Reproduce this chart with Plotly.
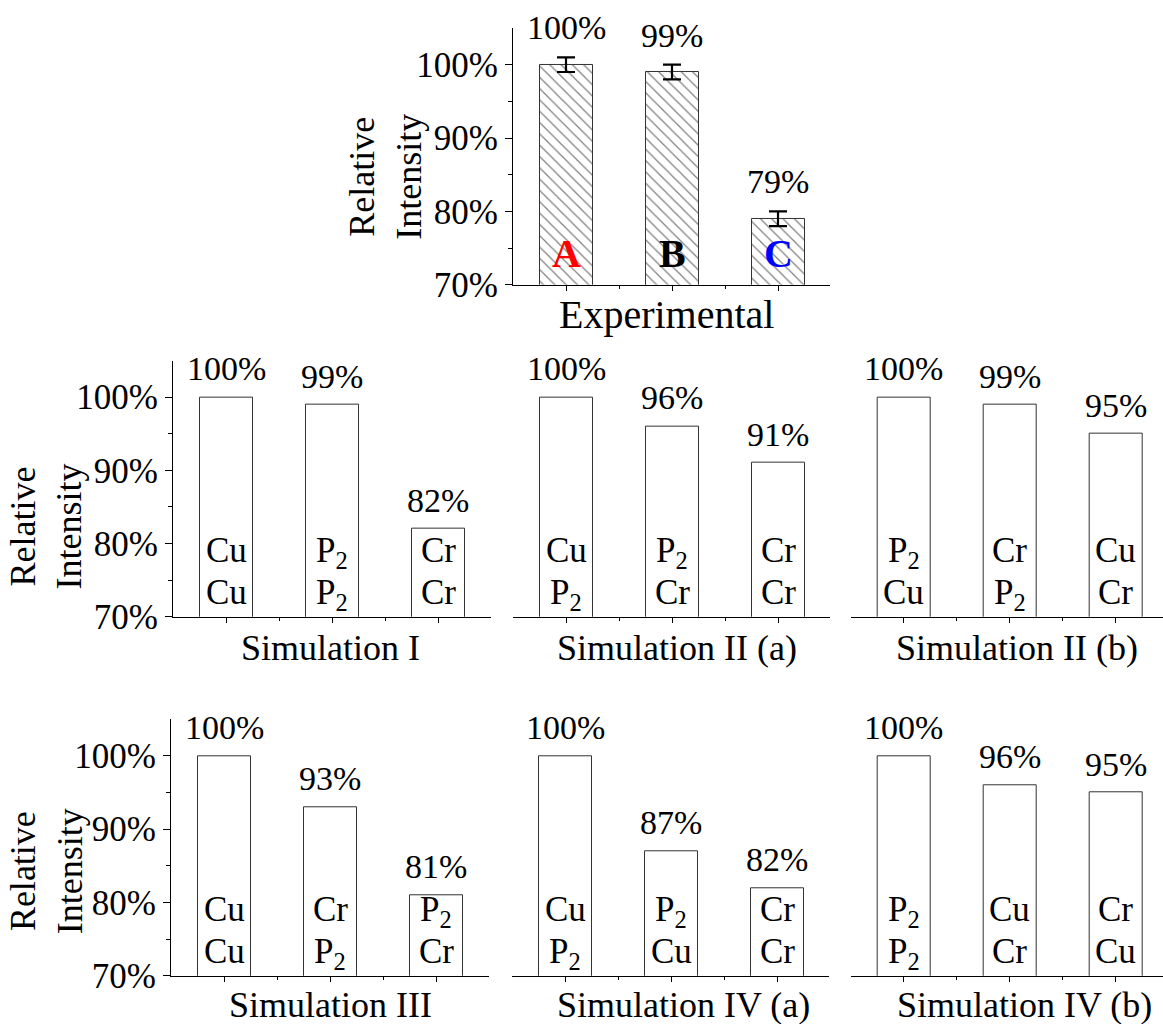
import plotly.graph_objects as go

FONT = "Liberation Serif"
W, H = 1163, 1024
# vertical extent that the paper coordinates span on the rendered page
H_PAPER = 1005

categories = [0, 1, 2]
value_ticks = [70, 80, 90, 100]
value_tick_labels = ["70%", "80%", "90%", "100%"]
minor_value_ticks = [75, 85, 95]

# Experimental panel
exp_title = "Experimental"
exp_values = [100, 99, 79]
exp_errors = [1, 1, 1]
exp_letters = ["A", "B", "C"]
exp_letter_colors = ["#ff0000", "#000000", "#0000ff"]

P2 = "P<sub>2</sub>"

# Simulation panels: bar heights plus the two-line label inside each bar
sim1_title = "Simulation I"
sim1_values = [100, 99, 82]
sim1_upper = ["Cu", P2, "Cr"]
sim1_lower = ["Cu", P2, "Cr"]

sim2a_title = "Simulation II (a)"
sim2a_values = [100, 96, 91]
sim2a_upper = ["Cu", P2, "Cr"]
sim2a_lower = [P2, "Cr", "Cr"]

sim2b_title = "Simulation II (b)"
sim2b_values = [100, 99, 95]
sim2b_upper = [P2, "Cr", "Cu"]
sim2b_lower = ["Cu", P2, "Cr"]

sim3_title = "Simulation III"
sim3_values = [100, 93, 81]
sim3_upper = ["Cu", "Cr", P2]
sim3_lower = ["Cu", P2, "Cr"]

sim4a_title = "Simulation IV (a)"
sim4a_values = [100, 87, 82]
sim4a_upper = ["Cu", P2, "Cr"]
sim4a_lower = [P2, "Cu", "Cr"]

sim4b_title = "Simulation IV (b)"
sim4b_values = [100, 96, 95]
sim4b_upper = [P2, "Cu", "Cr"]
sim4b_lower = [P2, "Cr", "Cu"]

# Pixel boxes of the plot areas (left, right, top, bottom), the x centre of
# each panel caption, and whether the panel carries a value axis
BOX_TOP = (513, 830, 28, 285)
ROW1 = (361, 617.3)
ROW2 = (720, 976.7)
sim_panels = [
    (sim1_title, sim1_values, sim1_upper, sim1_lower, (173, 491) + ROW1, 330, True),
    (sim2a_title, sim2a_values, sim2a_upper, sim2a_lower, (513, 830) + ROW1, 677, False),
    (sim2b_title, sim2b_values, sim2b_upper, sim2b_lower, (850.7, 1163) + ROW1, 1017, False),
    (sim3_title, sim3_values, sim3_upper, sim3_lower, (171, 488.5) + ROW2, 330, True),
    (sim4a_title, sim4a_values, sim4a_upper, sim4a_lower, (512, 829) + ROW2, 683, False),
    (sim4b_title, sim4b_values, sim4b_upper, sim4b_lower, (850.7, 1163) + ROW2, 1024, False),
]

PX_PER_CAT = 106.0
Y_RANGE = [70, 105]


def px_x(x):
    return x / W


def px_y(y):
    return 1 - y / H_PAPER


fig = go.Figure()
annotations = []


def add_axes(idx, box, show_y):
    x0, x1, y0, y1 = box
    sfx = "" if idx == 1 else str(idx)
    span = (x1 - x0) / PX_PER_CAT
    fig.layout["xaxis" + sfx] = dict(
        domain=[px_x(x0), px_x(x1)], range=[-0.5, -0.5 + span],
        anchor="y" + sfx, showline=True, linecolor="black", linewidth=1,
        tickvals=categories, showticklabels=False, ticks="outside",
        ticklen=5, tickcolor="black", tickwidth=1,
        minor=dict(tickvals=[0.5, 1.5], ticks="outside", ticklen=3,
                   tickcolor="black"),
        showgrid=False, zeroline=False, fixedrange=True,
    )
    fig.layout["yaxis" + sfx] = dict(
        domain=[px_y(y1), px_y(y0)], range=Y_RANGE, anchor="x" + sfx,
        visible=show_y,
        showline=True, linecolor="black", linewidth=1,
        tickvals=value_ticks, ticktext=value_tick_labels, ticks="outside",
        ticklen=7, tickcolor="black", tickwidth=1,
        minor=dict(tickvals=minor_value_ticks, ticks="outside", ticklen=4,
                   tickcolor="black"),
        tickfont=dict(family=FONT, size=35, color="black"),
        showgrid=False, zeroline=False, fixedrange=True,
    )
    return "x" + sfx, "y" + sfx


def y_title(cx, cy):
    annotations.append(dict(
        text="Relative<br>Intensity", xref="paper", yref="paper",
        x=px_x(cx), y=px_y(cy), xanchor="center", yanchor="middle",
        textangle=-90, showarrow=False,
        font=dict(family=FONT, size=36, color="black"),
    ))


def x_title(text, cx, cy, size):
    annotations.append(dict(
        text=text, xref="paper", yref="paper", x=px_x(cx), y=px_y(cy),
        xanchor="center", yanchor="middle", showarrow=False,
        font=dict(family=FONT, size=size, color="black"),
    ))


# --- Experimental panel (hatched bars with error bars) ---
xr, yr = add_axes(1, BOX_TOP, True)
fig.add_trace(go.Bar(
    x=categories, y=exp_values, width=0.5, xaxis=xr, yaxis=yr,
    marker=dict(color="white",
                pattern=dict(shape="\\", fgcolor="#000000", bgcolor="white",
                             size=8, solidity=0.15),
                line=dict(color="#333333", width=1)),
    error_y=dict(type="data", array=exp_errors, color="black",
                 thickness=2.2, width=9),
    showlegend=False, hoverinfo="skip",
))
for i, v in enumerate(exp_values):
    annotations.append(dict(
        text=f"{v}%", xref=xr, yref=yr, x=categories[i], y=v + exp_errors[i],
        xanchor="center", yanchor="bottom", yshift=9, showarrow=False,
        font=dict(family=FONT, size=34, color="black"),
    ))
    annotations.append(dict(
        text=f"<b>{exp_letters[i]}</b>", xref=xr, yref=yr, x=categories[i],
        y=Y_RANGE[0], xanchor="center", yanchor="bottom", yshift=7,
        showarrow=False,
        font=dict(family=FONT, size=40, color=exp_letter_colors[i]),
    ))
y_title(386, 177)
x_title(exp_title, 666, 315, 40)

# --- Simulation panels (open bars) ---
for k, (title, vals, upper, lower, box, title_x, show_y) in enumerate(sim_panels):
    xr, yr = add_axes(k + 2, box, show_y)
    x0, x1, y0, y1 = box
    fig.add_trace(go.Bar(
        x=categories, y=vals, width=0.5, xaxis=xr, yaxis=yr,
        marker=dict(color="white", line=dict(color="#333333", width=1)),
        showlegend=False, hoverinfo="skip",
    ))
    for i, v in enumerate(vals):
        annotations.append(dict(
            text=f"{v}%", xref=xr, yref=yr, x=categories[i], y=v,
            xanchor="center", yanchor="bottom", yshift=8, showarrow=False,
            font=dict(family=FONT, size=34, color="black"),
        ))
        for txt, shift in ((upper[i], 88), (lower[i], 46)):
            annotations.append(dict(
                text=txt, xref=xr, yref=yr, x=categories[i], y=Y_RANGE[0],
                xanchor="center", yanchor="top", yshift=shift,
                showarrow=False,
                font=dict(family=FONT, size=35, color="black"),
            ))
    if show_y:
        y_title(46, 527 if y0 < 500 else 872)
    x_title(title, title_x, 649 if y0 < 500 else 1006, 36)

fig.update_layout(
    width=W, height=H, margin=dict(l=0, r=0, t=0, b=0),
    paper_bgcolor="white", plot_bgcolor="white",
    font=dict(family=FONT, color="black"),
    annotations=annotations, bargap=0,
)

fig.write_html("out.html", config={"responsive": False})
